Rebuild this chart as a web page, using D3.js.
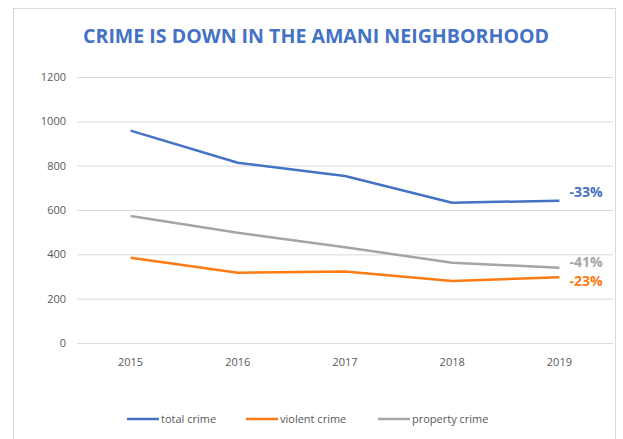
<!DOCTYPE html>
<html>
<head>
<meta charset="utf-8">
<script src="https://cdn.jsdelivr.net/npm/d3@7"></script>
<style>
  body { margin: 0; background: #fff; }
  text { font-family: "Open Sans", "Liberation Sans", sans-serif; }
</style>
</head>
<body>
<div id="chart"></div>
<script>
// data
let years = ["2015", "2016", "2017", "2018", "2019"];
let totalCrime = [958, 813, 753, 633, 642];
let violentCrime = [385, 317, 323, 280, 297];
let propertyCrime = [573, 497, 432, 362, 340];
let seriesNames = ["total crime", "violent crime", "property crime"];
let changeLabels = ["-33%", "-23%", "-41%"];
let yTicks = [0, 200, 400, 600, 800, 1000, 1200];

let colors = ["#4472c4", "#fd7b12", "#a5a5a5"];
let labelColors = ["#4472c4", "#fd7b12", "#a5a5a5"];
let allSeries = [totalCrime, violentCrime, propertyCrime];

let width = 623, height = 439;
let svg = d3.select("#chart").append("svg")
  .attr("width", width).attr("height", height);

// chart frame
svg.append("rect")
  .attr("x", 13.5).attr("y", 8.5)
  .attr("width", 602).attr("height", 440)
  .style("fill", "none").style("stroke", "#d9d9d9");

// title
svg.append("text")
  .attr("x", 316).attr("y", 43)
  .attr("text-anchor", "middle")
  .attr("textLength", 466).attr("lengthAdjust", "spacingAndGlyphs")
  .style("font-size", "19.5px").style("font-weight", "bold")
  .style("fill", "#4472c4")
  .text("CRIME IS DOWN IN THE AMANI NEIGHBORHOOD");

let x = d3.scaleBand().domain(years).range([77, 613]);
let y = d3.scaleLinear().domain([0, 1200]).range([343, 77]);

// gridlines
svg.append("g").selectAll("line").data(yTicks).enter().append("line")
  .attr("x1", 77).attr("x2", 613)
  .attr("y1", d => y(d) + 0.5).attr("y2", d => y(d) + 0.5)
  .style("stroke", "#d9d9d9").style("stroke-width", 1);

// y axis labels
svg.append("g").selectAll("text").data(yTicks).enter().append("text")
  .attr("x", 66).attr("y", d => y(d) + 4)
  .attr("text-anchor", "end")
  .style("font-size", "11px").style("fill", "#595959")
  .text(d => d);

// x axis labels
svg.append("g").selectAll("text").data(years).enter().append("text")
  .attr("x", d => x(d) + x.bandwidth() / 2).attr("y", 366)
  .attr("text-anchor", "middle")
  .style("font-size", "11px").style("fill", "#595959")
  .text(d => d);

let line = d3.line()
  .x((d, i) => x(years[i]) + x.bandwidth() / 2)
  .y(d => y(d));

// draw grey first so blue/orange sit on top
[2, 1, 0].forEach(function(k) {
  svg.append("path")
    .datum(allSeries[k])
    .attr("d", line)
    .style("fill", "none")
    .style("stroke", colors[k])
    .style("stroke-width", 2.5)
    .style("stroke-linejoin", "round");
});

// end labels, nudged off the line ends
let lastIdx = years.length - 1;
let labelDy = [-9, 4, -6];
changeLabels.forEach(function(t, k) {
  svg.append("text")
    .attr("x", x("2019") + x.bandwidth() / 2 + 10)
    .attr("y", y(allSeries[k][lastIdx]) + labelDy[k] + 5)
    .style("font-size", "14px").style("font-weight", "bold")
    .style("fill", labelColors[k])
    .text(t);
});

// legend
let legendX = [127, 246, 378];
let legend = svg.append("g").selectAll("g").data(seriesNames).enter().append("g")
  .attr("transform", (d, i) => `translate(${legendX[i]}, 419)`);
legend.append("line")
  .attr("x1", 0).attr("x2", 32).attr("y1", 0).attr("y2", 0)
  .style("stroke", (d, i) => colors[i]).style("stroke-width", 2.5);
legend.append("text")
  .attr("x", 34).attr("y", 4)
  .style("font-size", "11px").style("fill", "#595959")
  .text(d => d);
</script>
</body>
</html>
